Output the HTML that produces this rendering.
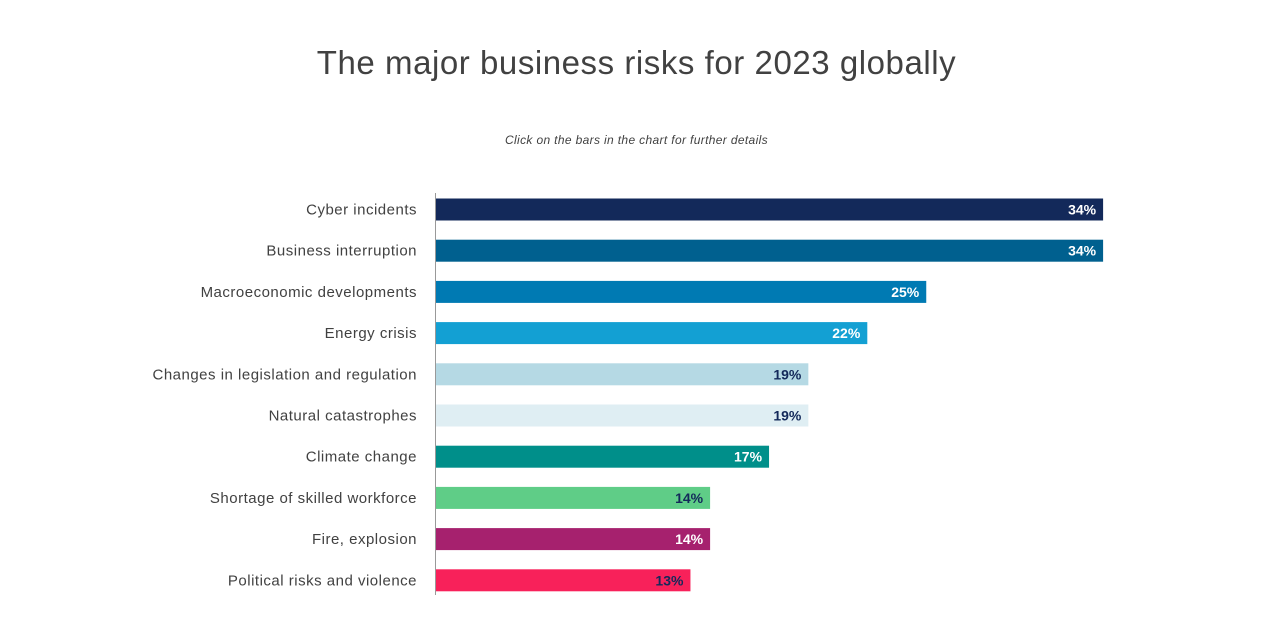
<!DOCTYPE html>
<html><head><meta charset="utf-8"><style>
body{margin:0;background:#fff;width:1283px;height:643px;overflow:hidden;font-family:"Liberation Sans",sans-serif}
h1{position:absolute;left:0;width:1273px;top:44px;margin:0;text-align:center;font-weight:300;font-size:33px;color:#414141;letter-spacing:0.55px}
.sub{position:absolute;left:0;width:1273px;top:133px;text-align:center;font-style:italic;font-size:12px;color:#414141;letter-spacing:0.35px}
</style></head><body>
<h1>The major business risks for 2023 globally</h1>
<div class="sub">Click on the bars in the chart for further details</div>
<svg id="c" width="1283" height="643" style="position:absolute;left:0;top:0"></svg>
<script>
const categories=["Cyber incidents","Business interruption","Macroeconomic developments","Energy crisis","Changes in legislation and regulation","Natural catastrophes","Climate change","Shortage of skilled workforce","Fire, explosion","Political risks and violence"];
const values=[34,34,25,22,19,19,17,14,14,13];
const colors=["#13295a","#00608f","#007ab3","#13a0d3","#b5d9e4","#dfeef3","#008f8a","#5fcd87","#a6216e","#f8215a"];
const labelColors=["#fff","#fff","#fff","#fff","#13295a","#13295a","#fff","#13295a","#fff","#13295a"];
const ns="http://www.w3.org/2000/svg",svg=document.getElementById('c');
const x0=435,pxPer=19.65,y0=209.5,step=41.2,bh=22;
const xs=v=>x0+v*pxPer, ys=i=>y0+i*step;
function mk(t,a){const e=document.createElementNS(ns,t);for(const k in a)e.setAttribute(k,a[k]);svg.appendChild(e);return e;}
categories.forEach((c,i)=>{
  const r=mk('rect',{x:x0,y:ys(i)-bh/2,width:xs(values[i])-x0,height:bh,fill:colors[i]});
  
  
  r.style.cursor='pointer';
  const l=mk('text',{x:417,y:ys(i)+5,'text-anchor':'end','font-size':15,'letter-spacing':0.5,fill:'#414141'});
  l.textContent=c;
  
  
  const v=mk('text',{x:xs(values[i])-7,y:ys(i)+5,'text-anchor':'end','font-size':14,'font-weight':'bold',fill:labelColors[i]});
  v.textContent=values[i]+'%';
  
  
});
const ax=mk('line',{x1:x0+0.5,x2:x0+0.5,y1:193,y2:595,stroke:'#999','stroke-width':1});


</script>
</body></html>
